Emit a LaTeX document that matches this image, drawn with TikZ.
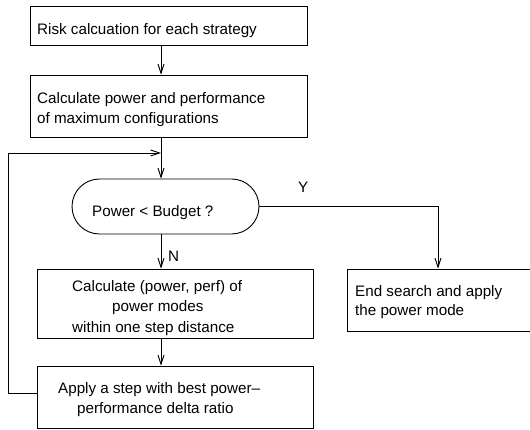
\documentclass[tikz,border=0pt]{standalone}
\usepackage{fontspec}
\setmainfont{Liberation Sans}
\usetikzlibrary{arrows.meta,shapes.misc}
\tikzset{
  boxnode/.style={draw, rectangle, line width=0.9pt, inner sep=0pt},
  termnode/.style={draw, rounded rectangle, line width=0.9pt, inner sep=0pt},
  txt/.style={anchor=base west, inner sep=0pt, font=\fontsize{15.2}{19}\selectfont},
  conn/.style={line width=0.9pt},
  arr/.style={line width=0.9pt, -{Straight Barb[length=9pt,width=6pt,line width=0.9pt]}}
}
\begin{document}
\begin{tikzpicture}[x=1pt,y=-1pt]
\useasboundingbox (0,0) rectangle (530,430);
% boxes
\node[boxnode, minimum width=277pt, minimum height=39pt] (b1) at (168.5,25.5) {};
\node[boxnode, minimum width=277pt, minimum height=62pt] (b2) at (168.5,106) {};
\node[termnode, minimum width=187pt, minimum height=55pt] (term) at (165.5,206.5) {};
\node[boxnode, minimum width=276pt, minimum height=69pt] (b3) at (175,303.5) {};
\node[boxnode, minimum width=276pt, minimum height=62pt] (b4) at (175,397) {};
\node[boxnode, minimum width=190pt, minimum height=62pt] (b5) at (442,300) {};
% texts
\node[txt] (t1) at (37,35) {Risk calcuation for each strategy};
\node[txt] (t2a) at (37,104) {Calculate power and performance};
\node[txt] (t2b) at (37,124) {of maximum configurations};
\node[txt] (tt) at (92,217) {Power < Budget ?};
\node[txt] (t3a) at (72,291) {Calculate (power, perf) of};
\node[txt] (t3b) at (112,312) {power modes};
\node[txt] (t3c) at (72,332) {within one step distance};
\node[txt] (t4a) at (58,393) {Apply a step with best power–};
\node[txt] (t4b) at (77,413) {performance delta ratio};
\node[txt] (t5a) at (355,297) {End search and apply};
\node[txt] (t5b) at (355,316) {the power mode};
\node[txt] (ly) at (298,193) {Y};
\node[txt] (ln) at (168,262) {N};
% helper coordinates
\coordinate (spine) at (161,0);
\coordinate (yx) at (438,0);
\coordinate (loopL) at (8,393);
\coordinate (loopT) at (8,153);
\coordinate (join) at (161,153);
% connectors
\draw[arr] (b1.south -| spine) -- (b2.north -| spine);
\draw[arr] (b2.south -| spine) -- (term.north -| spine);
\draw[arr] (term.south -| spine) -- (b3.north -| spine);
\draw[arr] (b3.south -| spine) -- (b4.north -| spine);
\draw[arr] (term.east) -- (term.east -| yx) -- (b5.north -| yx);
\draw[arr] (b4.west |- loopL) -- (loopL) -- (loopT) -- (join);
\end{tikzpicture}
\end{document}
